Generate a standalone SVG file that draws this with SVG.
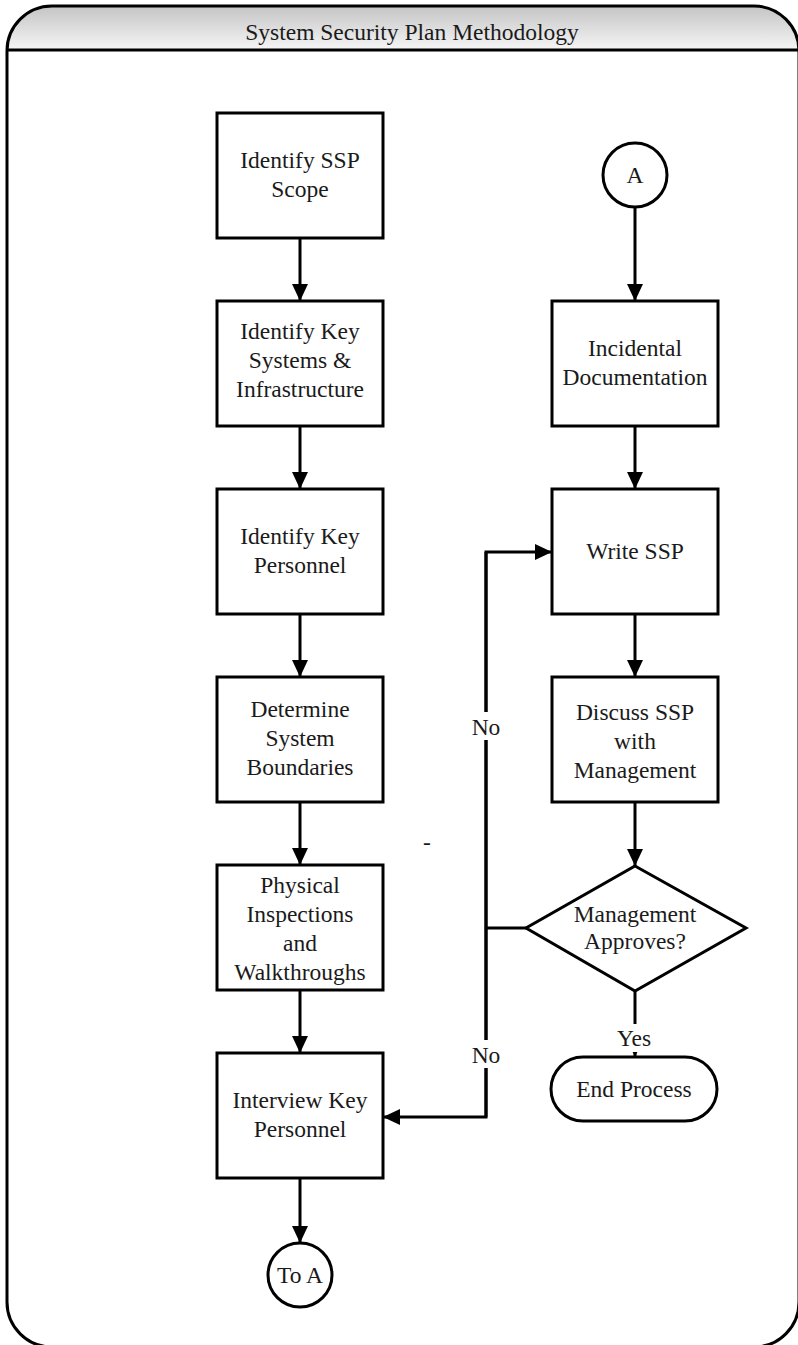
<svg xmlns="http://www.w3.org/2000/svg" width="798" height="1345" viewBox="0 0 798 1345">
<defs>
<linearGradient id="hdr" gradientUnits="userSpaceOnUse" x1="0" y1="6" x2="0" y2="50">
<stop offset="0" stop-color="#c4c4c4"/>
<stop offset="1" stop-color="#f6f6f6"/>
</linearGradient>
<clipPath id="hclip"><rect x="0" y="0" width="798" height="50"/></clipPath>
<marker id="arr" markerUnits="userSpaceOnUse" markerWidth="18" markerHeight="16" refX="17" refY="8" orient="auto">
<path d="M0,0 L17,8 L0,16 Z" fill="#000"/>
</marker>
<style>
.box{fill:#fff;stroke:#000;stroke-width:3}
.ln{fill:none;stroke:#000;stroke-width:3}
.t{font-family:"Liberation Serif","Times New Roman",serif;font-size:23.5px;fill:#1a1a1a;text-anchor:middle}
.lbl{fill:#fff;stroke:none}
</style>
</defs>
<rect width="798" height="1345" fill="#fff"/>
<g id="frame">
<rect x="7" y="6" width="792" height="1341" rx="45" ry="45" fill="url(#hdr)" clip-path="url(#hclip)"/>
<rect x="7" y="6" width="792" height="1341" rx="45" ry="45" fill="none" stroke="#000" stroke-width="3"/>
<line x1="7" y1="50" x2="798" y2="50" stroke="#000" stroke-width="3"/>
<text class="t" x="412" y="40">System Security Plan Methodology</text>
</g>
<g id="connectors">
<line class="ln" x1="300" y1="238" x2="300" y2="301" marker-end="url(#arr)"/>
<line class="ln" x1="300" y1="426" x2="300" y2="489" marker-end="url(#arr)"/>
<line class="ln" x1="300" y1="614" x2="300" y2="677" marker-end="url(#arr)"/>
<line class="ln" x1="300" y1="802" x2="300" y2="865" marker-end="url(#arr)"/>
<line class="ln" x1="300" y1="990" x2="300" y2="1053" marker-end="url(#arr)"/>
<line class="ln" x1="300" y1="1178" x2="300" y2="1243" marker-end="url(#arr)"/>
<line class="ln" x1="635" y1="207" x2="635" y2="301" marker-end="url(#arr)"/>
<line class="ln" x1="635" y1="426" x2="635" y2="489" marker-end="url(#arr)"/>
<line class="ln" x1="635" y1="614" x2="635" y2="677" marker-end="url(#arr)"/>
<line class="ln" x1="635" y1="802" x2="635" y2="866" marker-end="url(#arr)"/>
<line class="ln" x1="635" y1="991" x2="635" y2="1057" marker-end="url(#arr)"/>
<polyline class="ln" points="526,928 486,928"/>
<polyline class="ln" points="486,1117 486,552 552,552" marker-end="url(#arr)"/>
<polyline class="ln" points="486,552 486,1117 383,1117" marker-end="url(#arr)"/>
<rect class="lbl" x="470" y="712" width="32" height="28"/>
<text class="t" x="486" y="735">No</text>
<rect class="lbl" x="470" y="1040" width="32" height="28"/>
<text class="t" x="486" y="1063">No</text>
<rect class="lbl" x="616" y="1024" width="38" height="28"/>
<text class="t" x="634" y="1046">Yes</text>
</g>
<g id="n1"><rect class="box" x="217" y="113" width="166" height="125"/>
<text class="t" x="300" y="168">Identify SSP</text><text class="t" x="300" y="197">Scope</text></g>
<g id="n2"><rect class="box" x="217" y="301" width="166" height="125"/>
<text class="t" x="300" y="339">Identify Key</text><text class="t" x="300" y="368">Systems &amp;</text><text class="t" x="300" y="397">Infrastructure</text></g>
<g id="n3"><rect class="box" x="217" y="489" width="166" height="125"/>
<text class="t" x="300" y="544">Identify Key</text><text class="t" x="300" y="573">Personnel</text></g>
<g id="n4"><rect class="box" x="217" y="677" width="166" height="125"/>
<text class="t" x="300" y="717">Determine</text><text class="t" x="300" y="746">System</text><text class="t" x="300" y="775">Boundaries</text></g>
<g id="n5"><rect class="box" x="217" y="865" width="166" height="125"/>
<text class="t" x="300" y="893">Physical</text><text class="t" x="300" y="922">Inspections</text><text class="t" x="300" y="951">and</text><text class="t" x="300" y="980">Walkthroughs</text></g>
<g id="n6"><rect class="box" x="217" y="1053" width="166" height="125"/>
<text class="t" x="300" y="1108">Interview Key</text><text class="t" x="300" y="1137">Personnel</text></g>
<g id="toA"><circle class="box" cx="300" cy="1275" r="32"/>
<text class="t" x="300" y="1283">To A</text></g>
<g id="A"><circle class="box" cx="635" cy="175" r="32"/>
<text class="t" x="635" y="183">A</text></g>
<g id="n7"><rect class="box" x="552" y="301" width="166" height="125"/>
<text class="t" x="635" y="356">Incidental</text><text class="t" x="635" y="385">Documentation</text></g>
<g id="n8"><rect class="box" x="552" y="489" width="166" height="125"/>
<text class="t" x="635" y="559">Write SSP</text></g>
<g id="n9"><rect class="box" x="552" y="677" width="166" height="125"/>
<text class="t" x="635" y="720">Discuss SSP</text><text class="t" x="635" y="749">with</text><text class="t" x="635" y="778">Management</text></g>
<g id="n10"><polygon class="box" points="635,866 746,928 635,991 526,928"/>
<text class="t" x="635" y="922">Management</text><text class="t" x="635" y="949">Approves?</text></g>
<g id="n11"><rect class="box" x="551" y="1057" width="166" height="64" rx="32" ry="32"/>
<text class="t" x="634" y="1097">End Process</text></g>
<text class="t" x="427" y="850">-</text>
</svg>
